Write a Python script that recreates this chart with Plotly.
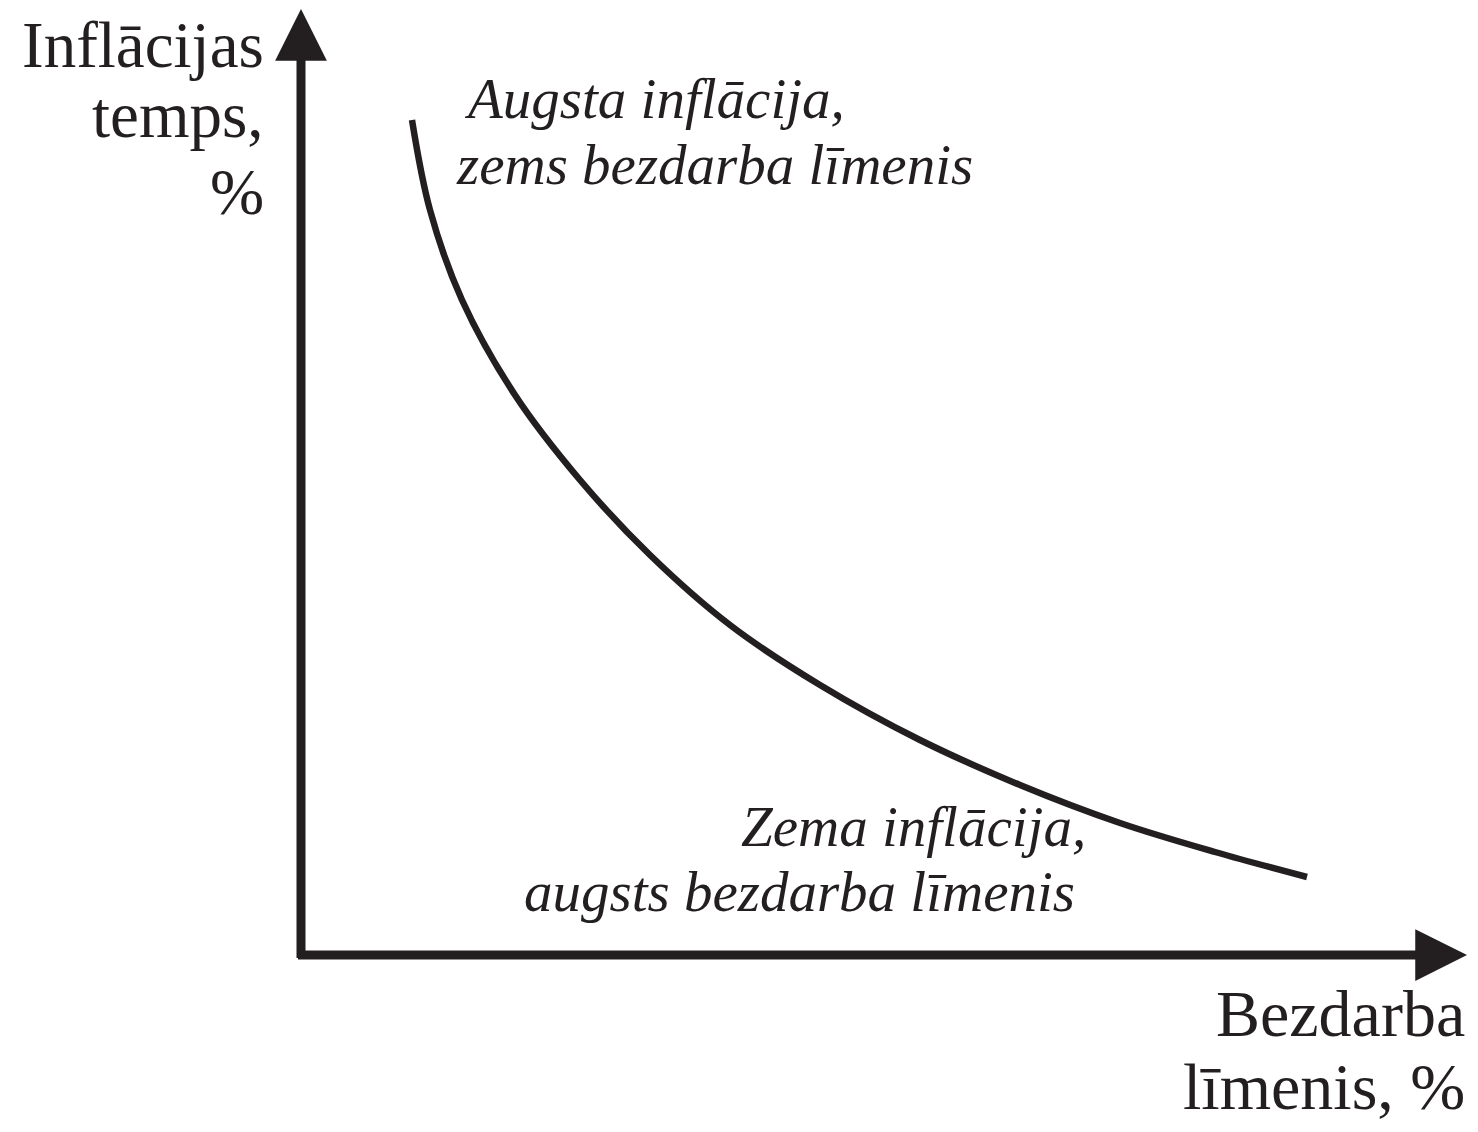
import plotly.graph_objects as go

# Phillips curve (axis units = arbitrary %)
unemployment = [11.1, 12.9, 16.1, 21.4, 27.9, 34.9, 42.9, 51.9, 61.9, 71.9, 81.9, 91.4, 100.6]
inflation = [83.5, 74.5, 65.5, 56.0, 47.5, 40.0, 33.0, 27.0, 21.5, 17.0, 13.2, 10.3, 7.8]

y_title_lines = ['Inflācijas', 'temps,', '%']
x_title_lines = ['Bezdarba', 'līmenis, %']
high_note = ['Augsta inflācija,', 'zems bezdarba līmenis']
low_note = ['Zema inflācija,', 'augsts bezdarba līmenis']

ink = '#231f20'
serif = 'Liberation Serif'

fig = go.Figure()
fig.add_trace(go.Scatter(
    x=unemployment,
    y=inflation,
    mode='lines',
    line=dict(color=ink, width=6.5, shape='spline', smoothing=1.0),
    hoverinfo='skip',
    showlegend=False
))

# axes drawn as arrows
fig.add_annotation(x=116.6, y=0, ax=-0.45, ay=0, xref='x', yref='y', axref='x', ayref='y',
                   text='', showarrow=True, arrowhead=2, arrowsize=1.15, arrowwidth=9, arrowcolor=ink)
fig.add_annotation(x=0, y=94.6, ax=0, ay=-0.45, xref='x', yref='y', axref='x', ayref='y',
                   text='', showarrow=True, arrowhead=2, arrowsize=1.15, arrowwidth=9, arrowcolor=ink)

# y axis title, right aligned next to the arrow
for txt, yy in zip(y_title_lines, [91.0, 84.0, 76.3]):
    fig.add_annotation(x=-3.5, y=yy, text=txt, showarrow=False, xanchor='right', yanchor='middle',
                       font=dict(family=serif, size=65, color=ink))

# x axis title, bottom right
for txt, yy in zip(x_title_lines, [-5.8, -13.1]):
    fig.add_annotation(x=116.6, y=yy, text=txt, showarrow=False, xanchor='right', yanchor='middle',
                       font=dict(family=serif, size=66, color=ink))

# italic notes
for txt, xx, yy in zip(high_note, [16.1, 15.3], [85.7, 79.1]):
    fig.add_annotation(x=xx, y=yy, text='<i>' + txt + '</i>', showarrow=False, xanchor='left', yanchor='middle',
                       font=dict(family=serif, size=57, color=ink))
for txt, xx, yy in zip(low_note, [43.8, 22.1], [12.9, 6.4]):
    fig.add_annotation(x=xx, y=yy, text='<i>' + txt + '</i>', showarrow=False, xanchor='left', yanchor='middle',
                       font=dict(family=serif, size=57, color=ink))

# page body has an 8px margin, so the figure is a bit smaller than the window
fig.update_layout(
    width=1470,
    height=1124,
    margin=dict(l=0, r=0, t=0, b=0),
    paper_bgcolor='white',
    plot_bgcolor='white',
    xaxis=dict(range=[-29.3, 117.7], visible=False, fixedrange=True),
    yaxis=dict(range=[-17.7, 94.7], visible=False, fixedrange=True),
)
fig.write_html('out.html')
